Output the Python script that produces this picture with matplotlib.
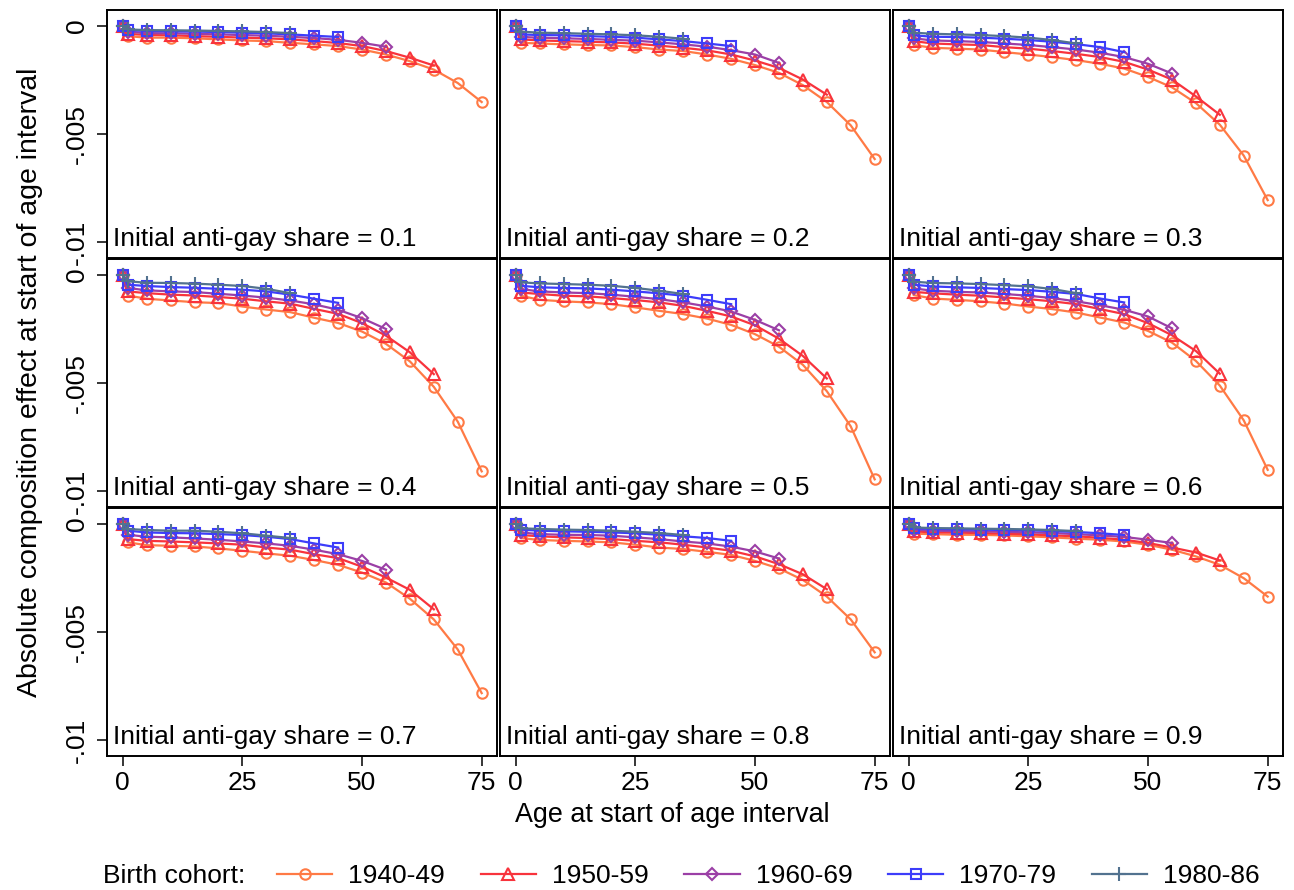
import numpy as np
import matplotlib
matplotlib.use("Agg")
import matplotlib.pyplot as plt

plt.rcParams['font.family'] = ['Liberation Sans', 'DejaVu Sans']

# age at start of each interval
AGES = [0, 1, 5, 10, 15, 20, 25, 30, 35, 40, 45, 50, 55, 60, 65, 70, 75]
SHARES = [0.1, 0.2, 0.3, 0.4, 0.5, 0.6, 0.7, 0.8, 0.9]
COHORTS = ["1940-49", "1950-59", "1960-69", "1970-79", "1980-86"]

# composition effect in thousandths, one row per initial share
c1940 = [
    [0, -0.47, -0.54, -0.54, -0.57, -0.62, -0.67, -0.70, -0.78, -0.85, -0.93, -1.09, -1.32, -1.63, -2.02, -2.64, -3.52],
    [0, -0.78, -0.81, -0.85, -0.88, -0.90, -0.98, -1.09, -1.16, -1.32, -1.52, -1.81, -2.17, -2.74, -3.52, -4.60, -6.16],
    [0, -0.88, -1.01, -1.05, -1.09, -1.21, -1.32, -1.44, -1.58, -1.75, -1.97, -2.36, -2.84, -3.57, -4.57, -6.00, -8.06],
    [0, -0.95, -1.10, -1.18, -1.26, -1.30, -1.46, -1.60, -1.72, -1.98, -2.22, -2.62, -3.19, -4.00, -5.18, -6.79, -9.09],
    [0, -0.96, -1.15, -1.22, -1.27, -1.35, -1.50, -1.66, -1.81, -2.02, -2.31, -2.74, -3.32, -4.16, -5.38, -7.01, -9.46],
    [0, -0.93, -1.09, -1.15, -1.22, -1.32, -1.46, -1.58, -1.74, -1.97, -2.20, -2.59, -3.13, -3.98, -5.12, -6.73, -9.02],
    [0, -0.85, -0.98, -1.01, -1.04, -1.13, -1.24, -1.36, -1.47, -1.67, -1.89, -2.25, -2.71, -3.46, -4.42, -5.81, -7.83],
    [0, -0.65, -0.74, -0.78, -0.81, -0.85, -0.96, -1.09, -1.16, -1.29, -1.43, -1.71, -2.06, -2.59, -3.36, -4.42, -5.94],
    [0, -0.45, -0.47, -0.50, -0.50, -0.53, -0.57, -0.62, -0.68, -0.73, -0.81, -0.96, -1.19, -1.50, -1.89, -2.51, -3.36],
]
c1950 = [
    [0, -0.36, -0.42, -0.43, -0.47, -0.50, -0.54, -0.57, -0.62, -0.70, -0.79, -0.93, -1.16, -1.47, -1.83],
    [0, -0.62, -0.67, -0.70, -0.73, -0.76, -0.82, -0.91, -1.01, -1.13, -1.32, -1.60, -1.94, -2.48, -3.18],
    [0, -0.70, -0.81, -0.85, -0.88, -0.98, -1.05, -1.16, -1.29, -1.44, -1.66, -2.02, -2.48, -3.26, -4.11],
    [0, -0.76, -0.84, -0.91, -0.95, -1.02, -1.10, -1.22, -1.33, -1.57, -1.80, -2.23, -2.81, -3.58, -4.59],
    [0, -0.81, -0.88, -0.96, -0.99, -1.07, -1.16, -1.27, -1.43, -1.66, -1.92, -2.33, -2.95, -3.75, -4.79],
    [0, -0.78, -0.85, -0.91, -0.96, -1.04, -1.12, -1.22, -1.35, -1.58, -1.81, -2.23, -2.79, -3.52, -4.57],
    [0, -0.70, -0.78, -0.81, -0.85, -0.90, -0.96, -1.09, -1.19, -1.40, -1.58, -1.98, -2.48, -3.05, -3.95],
    [0, -0.51, -0.57, -0.62, -0.65, -0.70, -0.78, -0.85, -0.96, -1.09, -1.24, -1.50, -1.86, -2.33, -3.02],
    [0, -0.34, -0.39, -0.40, -0.42, -0.45, -0.48, -0.53, -0.57, -0.64, -0.73, -0.88, -1.09, -1.32, -1.69],
]
c1960 = [
    [0, -0.26, -0.33, -0.34, -0.36, -0.39, -0.42, -0.45, -0.50, -0.56, -0.64, -0.78, -0.96],
    [0, -0.51, -0.54, -0.57, -0.60, -0.64, -0.68, -0.76, -0.85, -0.96, -1.12, -1.32, -1.71],
    [0, -0.57, -0.67, -0.70, -0.74, -0.81, -0.88, -0.98, -1.09, -1.24, -1.44, -1.75, -2.20],
    [0, -0.60, -0.71, -0.76, -0.79, -0.87, -0.95, -1.05, -1.18, -1.36, -1.61, -2.00, -2.50],
    [0, -0.65, -0.76, -0.81, -0.84, -0.91, -1.01, -1.12, -1.27, -1.46, -1.69, -2.08, -2.56],
    [0, -0.62, -0.73, -0.78, -0.81, -0.88, -0.96, -1.07, -1.22, -1.40, -1.61, -1.92, -2.47],
    [0, -0.50, -0.59, -0.62, -0.67, -0.73, -0.81, -0.90, -1.01, -1.19, -1.40, -1.71, -2.12],
    [0, -0.39, -0.47, -0.50, -0.51, -0.54, -0.62, -0.70, -0.81, -0.90, -1.05, -1.27, -1.60],
    [0, -0.26, -0.31, -0.33, -0.34, -0.36, -0.39, -0.42, -0.47, -0.53, -0.60, -0.73, -0.88],
]
c1970 = [
    [0, -0.19, -0.23, -0.25, -0.26, -0.28, -0.31, -0.34, -0.39, -0.45, -0.51],
    [0, -0.39, -0.42, -0.43, -0.47, -0.50, -0.54, -0.62, -0.70, -0.81, -0.93],
    [0, -0.43, -0.50, -0.51, -0.54, -0.59, -0.65, -0.73, -0.84, -0.98, -1.21],
    [0, -0.45, -0.51, -0.56, -0.59, -0.64, -0.68, -0.76, -0.91, -1.10, -1.29],
    [0, -0.50, -0.57, -0.60, -0.62, -0.68, -0.76, -0.85, -0.96, -1.15, -1.35],
    [0, -0.45, -0.53, -0.57, -0.60, -0.65, -0.70, -0.78, -0.88, -1.09, -1.27],
    [0, -0.31, -0.39, -0.42, -0.43, -0.47, -0.51, -0.59, -0.70, -0.90, -1.09],
    [0, -0.26, -0.31, -0.34, -0.36, -0.39, -0.43, -0.50, -0.57, -0.65, -0.78],
    [0, -0.20, -0.23, -0.25, -0.26, -0.28, -0.29, -0.33, -0.37, -0.43, -0.51],
]
c1980 = [
    [0, -0.16, -0.19, -0.20, -0.21, -0.23, -0.25, -0.28, -0.33],
    [0, -0.26, -0.31, -0.33, -0.36, -0.39, -0.43, -0.50, -0.59],
    [0, -0.31, -0.36, -0.39, -0.42, -0.47, -0.54, -0.65, -0.81],
    [0, -0.29, -0.36, -0.37, -0.40, -0.45, -0.51, -0.64, -0.84],
    [0, -0.34, -0.39, -0.42, -0.45, -0.50, -0.60, -0.73, -0.88],
    [0, -0.31, -0.37, -0.39, -0.42, -0.47, -0.53, -0.65, -0.84],
    [0, -0.23, -0.28, -0.31, -0.31, -0.36, -0.43, -0.54, -0.65],
    [0, -0.20, -0.23, -0.26, -0.28, -0.31, -0.36, -0.42, -0.51],
    [0, -0.16, -0.19, -0.20, -0.22, -0.23, -0.25, -0.28, -0.33],
]

series = [c1940, c1950, c1960, c1970, c1980]
colors = ["#FF7A45", "#F8333C", "#9B3FA6", "#3D3DFA", "#52728F"]
markers = ["o", "^", "D", "s", "+"]
msizes = [7.5, 8.5, 6.5, 6.5, 10]

W, H = 1294, 890
fig = plt.figure(figsize=(W / 100, H / 100), dpi=100)

col_left = [107, 500, 893]
row_top = [10, 259, 508]
pw, ph = 390, 248
FS = 19

axes = []
for k, share in enumerate(SHARES):
    r, c = divmod(k, 3)
    ax = fig.add_axes([col_left[c] / W, 1 - (row_top[r] + ph) / H, pw / W, ph / H])
    for j, data in enumerate(series):
        y = np.array(data[k]) * 1e-3
        x = AGES[:len(y)]
        ax.plot(x, y, color=colors[j], lw=1.6, marker=markers[j], ms=msizes[j],
                mfc="none", mec=colors[j], mew=1.5, label=COHORTS[j], zorder=2 + j)
    ax.set_xlim(-3.3, 78.2)
    ax.set_ylim(-0.01074, 0.00074)
    ax.set_xticks([0, 25, 50, 75])
    ax.set_yticks([0, -0.005, -0.01])
    ax.text(0.016, 0.047, f"Initial anti-gay share = {share}", transform=ax.transAxes,
            fontsize=FS, ha="left", va="baseline")
    for s in ax.spines.values():
        s.set_linewidth(1.4)
    ax.tick_params(length=7, width=1.1, labelsize=FS, direction="out")
    ax.tick_params(axis="x", pad=4)
    ax.tick_params(axis="y", pad=6)
    if c == 0:
        ax.set_yticklabels(["0", "-.005", "-.01"], rotation=90, va="center")
    else:
        ax.tick_params(axis="y", left=False, labelleft=False)
    if r == 2:
        ax.set_xticklabels(["0", "25", "50", "75"])
    else:
        ax.tick_params(axis="x", bottom=False, labelbottom=False)
    axes.append(ax)

fig.text(30 / W, 1 - 382 / H, "Absolute composition effect at start of age interval",
         rotation=90, ha="center", va="center", fontsize=20.5)
fig.text(672 / W, 1 - 815 / H, "Age at start of age interval",
         ha="center", va="center", fontsize=19.4)

fig.text(103 / W, 1 - 876 / H, "Birth cohort:", ha="left", va="center", fontsize=FS)
handles, labels = axes[0].get_legend_handles_labels()
fig.legend(handles, labels, loc="center left", bbox_to_anchor=(277 / W, 1 - 876 / H),
           ncol=5, frameon=False, fontsize=FS, handlelength=2.1, handletextpad=0.6,
           columnspacing=1.35, borderpad=0, borderaxespad=0)

fig.savefig("out.png", dpi=100)
